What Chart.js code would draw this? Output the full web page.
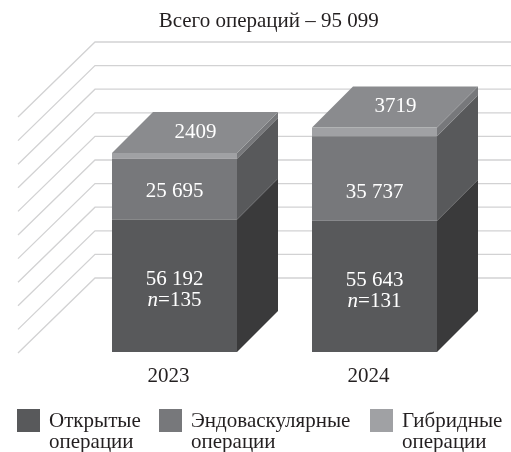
<!DOCTYPE html>
<html>
<head>
<meta charset="utf-8">
<style>
html, body { margin: 0; padding: 0; background: #fff; }
#wrap { width: 511px; height: 452px; }
</style>
</head>
<body>
<div id="wrap"><canvas id="grafico"></canvas></div>
<script src="https://cdn.jsdelivr.net/npm/chart.js@4"></script>
<script>
const anios = ['2023', '2024'];
const abiertas = [56192, 55643];
const endovasculares = [25695, 35737];
const hibridas = [2409, 3719];
const casos = [135, 131];
const etiquetas = [['Открытые', 'операции'], ['Эндоваскулярные', 'операции'], ['Гибридные', 'операции']];
const lineasFondo = [0, 10000, 20000, 30000, 40000, 50000, 60000, 70000, 80000, 90000, 100000];

const frente = ['#58595b', '#77787b', '#a0a1a4'];
const lado = ['#3a3a3b', '#58595b', '#77787b'];
const tapa = '#8a8b8e';
const fuente = '"Liberation Serif", serif';
const tamano = 21;
const prof = 41;
const leyendaX = [17, 159, 370];

function miles(v) {
  const s = String(v);
  return v >= 10000 ? s.slice(0, -3) + ' ' + s.slice(-3) : s;
}

function poligono(ctx, pts, color) {
  ctx.fillStyle = color;
  ctx.beginPath();
  pts.forEach((p, i) => i ? ctx.lineTo(p[0], p[1]) : ctx.moveTo(p[0], p[1]));
  ctx.closePath();
  ctx.fill();
}

// paredes del fondo y caras laterales de cada barra
const fondo3d = {
  id: 'fondo3d',
  afterLayout(chart) {
    chart.titleBlock.left -= 5.8;
    chart.titleBlock.right -= 5.8;
  },
  beforeDatasetsDraw(chart) {
    const ctx = chart.ctx;
    const y = chart.scales.y;
    ctx.save();
    ctx.strokeStyle = '#d2d2d3';
    ctx.lineWidth = 1.3;
    lineasFondo.forEach(v => {
      const py = y.getPixelForValue(v) - 74;
      ctx.beginPath();
      ctx.moveTo(18, py + 75);
      ctx.lineTo(95, py);
      ctx.lineTo(511, py);
      ctx.stroke();
    });
    chart.data.datasets.forEach((ds, i) => {
      chart.getDatasetMeta(i).data.forEach(bar => {
        const r = bar.x + bar.width / 2;
        poligono(ctx, [[r, bar.y], [r + prof, bar.y - prof], [r + prof, bar.base - prof], [r, bar.base]], lado[i]);
      });
    });
    const ult = chart.data.datasets.length - 1;
    chart.getDatasetMeta(ult).data.forEach(bar => {
      const l = bar.x - bar.width / 2, r = bar.x + bar.width / 2;
      poligono(ctx, [[l, bar.y], [r, bar.y], [r + prof, bar.y - prof], [l + prof, bar.y - prof]], tapa);
    });
    ctx.restore();
  },
  afterDatasetsDraw(chart) {
    const ctx = chart.ctx;
    const normal = tamano + 'px ' + fuente;
    const cursiva = 'italic ' + normal;
    ctx.save();
    ctx.fillStyle = '#fff';
    ctx.textAlign = 'center';
    ctx.textBaseline = 'middle';
    ctx.font = normal;
    const abiertasM = chart.getDatasetMeta(0).data;
    const hibM = chart.getDatasetMeta(2).data;
    anios.forEach((a, i) => {
      const cx = abiertasM[i].x;
      ctx.fillText(miles(hibridas[i]), cx + 21, hibM[i].y - 21);
      ctx.fillText(miles(endovasculares[i]), cx, abiertasM[i].y - 28);
      ctx.fillText(miles(abiertas[i]), cx, abiertasM[i].y + 60);
      const resto = '=' + casos[i];
      ctx.font = cursiva;
      const w1 = ctx.measureText('n').width;
      ctx.font = normal;
      const w2 = ctx.measureText(resto).width;
      const x0 = cx - (w1 + w2) / 2;
      ctx.textAlign = 'left';
      ctx.font = cursiva;
      ctx.fillText('n', x0, abiertasM[i].y + 81);
      ctx.font = normal;
      ctx.fillText(resto, x0 + w1, abiertasM[i].y + 81);
      ctx.textAlign = 'center';
    });
    ctx.restore();
  },
  // leyenda en dos renglones
  afterDraw(chart) {
    const ctx = chart.ctx;
    ctx.save();
    ctx.font = tamano + 'px ' + fuente;
    ctx.textAlign = 'left';
    ctx.textBaseline = 'alphabetic';
    etiquetas.forEach((lineas, i) => {
      ctx.fillStyle = frente[i];
      ctx.fillRect(leyendaX[i], 409, 23, 23);
      ctx.fillStyle = '#231f20';
      ctx.fillText(lineas[0], leyendaX[i] + 32, 427);
      ctx.fillText(lineas[1], leyendaX[i] + 32, 448);
    });
    ctx.restore();
  }
};

const oculto = {
  display: true,
  stacked: true,
  min: 0,
  max: 100000,
  grid: { display: false },
  border: { display: false },
  ticks: { display: false }
};

new Chart(document.getElementById('grafico'), {
  type: 'bar',
  data: {
    labels: anios,
    datasets: [
      { label: etiquetas[0].join(' '), data: abiertas, backgroundColor: frente[0] },
      { label: etiquetas[1].join(' '), data: endovasculares, backgroundColor: frente[1] },
      { label: etiquetas[2].join(' '), data: hibridas, backgroundColor: frente[2] }
    ]
  },
  options: {
    responsive: true,
    maintainAspectRatio: false,
    animation: false,
    layout: { padding: { left: 0, right: 0, top: 0, bottom: 52 } },
    scales: {
      x: {
        stacked: true,
        grid: { display: false },
        border: { display: false },
        ticks: { color: '#231f20', font: { family: fuente, size: tamano }, labelOffset: -6, padding: 4, maxRotation: 0 },
        afterFit(s) { s.height = 48; }
      },
      y: Object.assign({}, oculto, { afterFit(s) { s.width = 74.5; } }),
      y2: Object.assign({}, oculto, { position: 'right', afterFit(s) { s.width = 36.5; } })
    },
    datasets: { bar: { categoryPercentage: 1, barPercentage: 0.625 } },
    plugins: {
      title: {
        display: true,
        fullSize: false,
        text: 'Всего операций – 95 099',
        color: '#231f20',
        font: { family: fuente, size: tamano, weight: 'normal' },
        padding: { top: 9, bottom: 81.8 }
      },
      legend: { display: false },
      tooltip: { enabled: false }
    }
  },
  plugins: [fondo3d]
});
</script>
</body>
</html>
